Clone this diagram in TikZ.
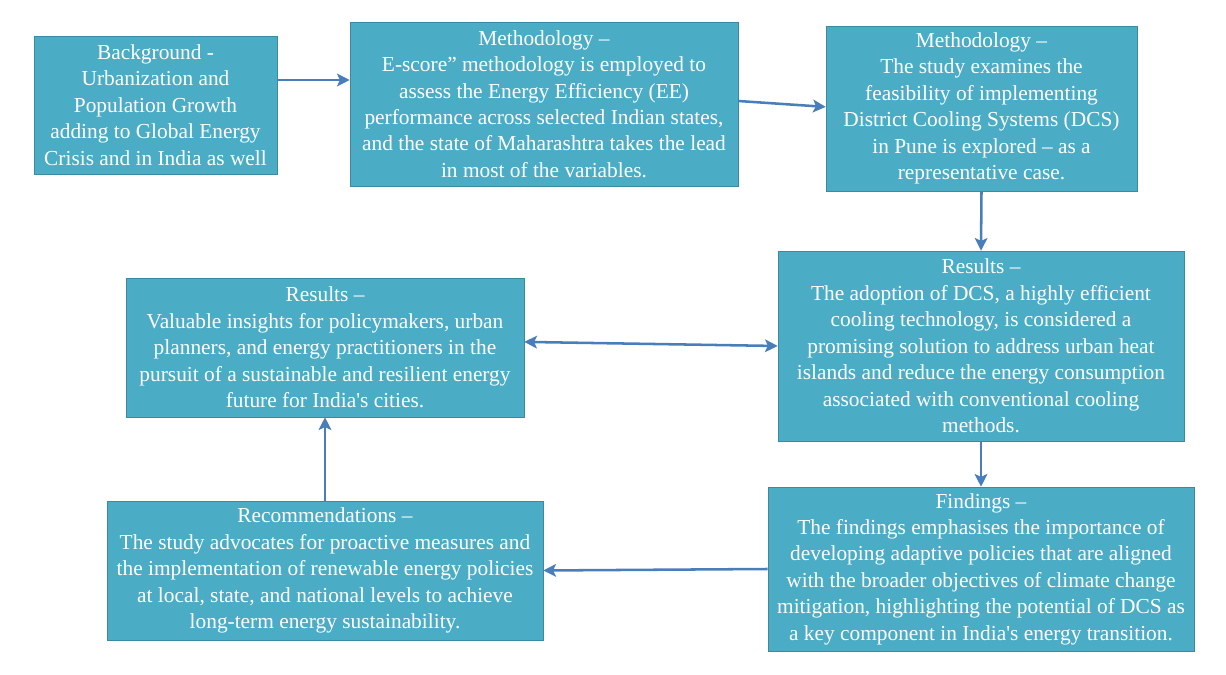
\documentclass[tikz,border=0pt]{standalone}
\usepackage{fontspec}
\setmainfont{Liberation Serif}
\usetikzlibrary{arrows.meta}
\definecolor{boxfill}{HTML}{4BACC6}
\definecolor{boxline}{HTML}{3A8AA0}
\definecolor{linkblue}{HTML}{4A7EBB}
\tikzset{
  stage/.style={draw=boxline, fill=boxfill, text=white, align=center, inner sep=2pt,
    font=\fontsize{15.2}{18.8}\selectfont},
  link/.style={linkblue, line width=1.8pt, -{Stealth[length=9pt, width=9pt, inset=2pt]}}
}

\begin{document}
\begin{tikzpicture} [scale = 1]
\useasboundingbox (0, 0) rectangle (30.65, 16.85);
\node[stage, minimum width=6.075cm, minimum height=3.45cm] (bg) at (3.8875, 14.225)
  {Background -\\Urbanization and\\Population Growth\\adding to Global Energy\\Crisis and in India as well};
\node[stage, minimum width=9.7cm, minimum height=4.1cm] (meth1) at (13.6, 14.25)
  {Methodology --\\E-score'' methodology is employed to\\assess the Energy Efficiency (EE)\\performance across selected Indian states,\\and the state of Maharashtra takes the lead\\in most of the variables.};
\node[stage, minimum width=7.775cm, minimum height=4.125cm] (meth2) at (24.5375, 14.1375)
  {Methodology --\\The study examines the\\feasibility of implementing\\District Cooling Systems (DCS)\\in Pune is explored -- as a\\representative case.};
\node[stage, minimum width=10.15cm, minimum height=4.75cm] (res1) at (24.525, 8.2)
  {Results --\\The adoption of DCS, a highly efficient\\cooling technology, is considered a\\promising solution to address urban heat\\islands and reduce the energy consumption\\associated with conventional cooling\\methods.};
\node[stage, minimum width=9.95cm, minimum height=3.475cm] (res2) at (8.125, 8.1625)
  {Results --\\Valuable insights for policymakers, urban\\planners, and energy practitioners in the\\pursuit of a sustainable and resilient energy\\future for India\textquotesingle s cities.};
\node[stage, minimum width=10.65cm, minimum height=4.1cm] (find) at (24.525, 2.625)
  {Findings --\\The findings emphasises the importance of\\developing adaptive policies that are aligned\\with the broader objectives of climate change\\mitigation, highlighting the potential of DCS as\\a key component in India\textquotesingle s energy transition.};
\node[stage, minimum width=10.9cm, minimum height=3.475cm] (rec) at (8.125, 2.5875)
  {Recommendations --\\The study advocates for proactive measures and\\the implementation of renewable energy policies\\at local, state, and national levels to achieve\\long-term energy sustainability.};
\draw[link] ([yshift=0.625cm]bg.east) -- ([yshift=0.6cm]meth1.west);
\draw[link] ([yshift=0.075cm]meth1.east) -- ([yshift=0.04cm]meth2.west);
\draw[link] (meth2.south) -- (res1.north);
\draw[link] (res1.south) -- (find.north);
\draw[link] (find.west) -- (rec.east);
\draw[link] (rec.north) -- (res2.south);
\draw[link, {Stealth[length=9pt, width=9pt, inset=2pt]}-{Stealth[length=9pt, width=9pt, inset=2pt]}] ([yshift=0.14cm]res2.east) -- (res1.west);
\end{tikzpicture}
\end{document}
